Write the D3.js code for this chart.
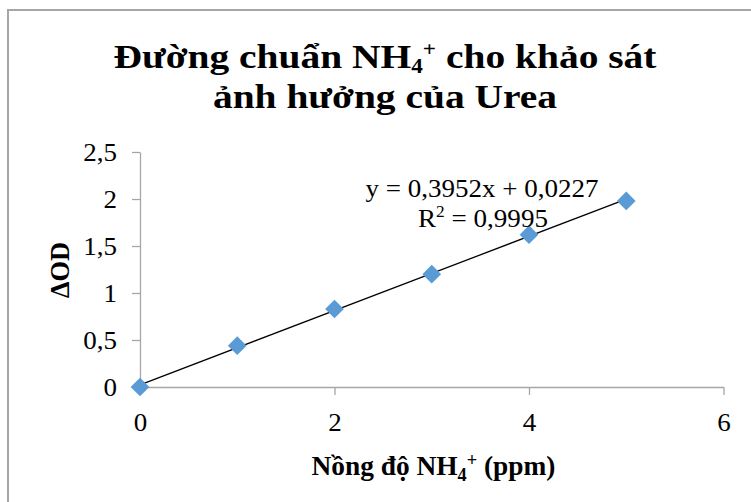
<!DOCTYPE html>
<html><head><meta charset="utf-8">
<script src="https://cdn.jsdelivr.net/npm/d3@7"></script>
<style>body{margin:0;background:#fff}svg{display:block}</style>
</head><body>
<script>
const concentrations = [0, 1, 2, 3, 4, 5];
const deltaOD = [0, 0.44, 0.83, 1.2, 1.62, 1.98];
const trendSlope = 0.3952, trendIntercept = 0.0227;
const equationText = "y = 0,3952x + 0,0227";
const r2Value = "0,9995";
const xTicks = [0, 2, 4, 6];
const yTicks = [0, 0.5, 1, 1.5, 2, 2.5];
const fmt = v => String(v).replace(".", ",");

const W = 751, H = 502;
const serif = "'Liberation Serif', 'DejaVu Serif', serif";
const svg = d3.select("body").append("svg").attr("width", W).attr("height", H);
svg.append("rect").attr("width", W).attr("height", H).attr("fill", "#fff");
svg.append("rect").attr("x", 8).attr("y", 10).attr("width", 800).attr("height", 600)
  .attr("fill", "none").attr("stroke", "#a6a6a6").attr("stroke-width", 2);

// stretch a text element horizontally to a target width, centred at cx
function fitWidth(sel, target, cx) {
  const w = sel.node().getBBox().width;
  const k = target / w;
  sel.attr("transform", `translate(${cx},0) scale(${k},1) translate(${-cx},0)`);
}

const x = d3.scaleLinear().domain([0, 6]).range([140, 723.5]);
const y = d3.scaleLinear().domain([0, 2.5]).range([387, 152]);

// axes
const xAxis = svg.append("g").attr("transform", `translate(0,${y(0)})`)
  .call(d3.axisBottom(x).tickValues(xTicks).tickSize(8).tickSizeOuter(0).tickFormat(fmt));
const yAxis = svg.append("g").attr("transform", `translate(${x(0)},0)`)
  .call(d3.axisLeft(y).tickValues(yTicks).tickSize(8).tickSizeOuter(0).tickFormat(fmt));
[xAxis, yAxis].forEach(g => {
  g.select(".domain").attr("stroke", "#a6a6a6").attr("stroke-width", 1.3);
  g.selectAll(".tick line").attr("stroke", "#a6a6a6").attr("stroke-width", 1.3);
  g.selectAll(".tick text").attr("fill", "#000").style("font-family", serif).style("font-size", "25px");
});
xAxis.selectAll(".tick line").filter(d => d === 0).remove();
yAxis.selectAll(".tick line").filter(d => d === 0).remove();
xAxis.selectAll(".tick text").attr("dy", 0).attr("y", 44);
yAxis.selectAll(".tick text").attr("x", -23);
xAxis.selectAll(".tick text").each(function() { fitWidth(d3.select(this), this.getBBox().width * 1.08, 0); });
yAxis.selectAll(".tick text").each(function() { fitWidth(d3.select(this), this.getBBox().width * 1.08, -23); });

// trendline
svg.append("line")
  .attr("x1", x(0)).attr("y1", y(trendIntercept))
  .attr("x2", x(5)).attr("y2", y(trendSlope * 5 + trendIntercept))
  .attr("stroke", "#000").attr("stroke-width", 1.3);

// points
const data = concentrations.map((c, i) => ({c, v: deltaOD[i]}));
svg.selectAll("path.pt").data(data).enter().append("path").attr("class", "pt")
  .attr("d", d3.symbol().type(d3.symbolSquare).size(175))
  .attr("transform", d => `translate(${x(d.c)},${y(d.v)}) rotate(45)`)
  .attr("fill", "#5b9bd5");

// title (one text element, two lines)
const TF = 34, SF = 20;
const title = svg.append("text").attr("text-anchor", "middle")
  .style("font-family", serif).style("font-weight", "bold").style("font-size", TF + "px").attr("fill", "#000");
const l1 = title.append("tspan").attr("x", 385).attr("y", 68);
l1.append("tspan").text("Đường chuẩn NH");
l1.append("tspan").attr("dy", 5).style("font-size", SF + "px").text("4");
l1.append("tspan").attr("dy", -17).style("font-size", SF + "px").text("+");
l1.append("tspan").attr("dy", 12).text(" cho khảo sát");
title.append("tspan").attr("x", 385).attr("y", 108).text("ảnh hưởng của Urea");
{
  const tmp = svg.append("text").style("font-family", serif).style("font-weight", "bold").style("font-size", TF + "px");
  tmp.append("tspan").text("Đường chuẩn NH");
  tmp.append("tspan").style("font-size", SF + "px").text("4+");
  tmp.append("tspan").text(" cho khảo sát");
  const k = 544 / tmp.node().getBBox().width;
  tmp.remove();
  title.attr("transform", `translate(385,0) scale(${k},1) translate(-385,0)`);
}

// x title
const xt = svg.append("text").attr("text-anchor", "middle").attr("x", 433.5).attr("y", 475)
  .style("font-family", serif).style("font-weight", "bold").style("font-size", "27px").attr("fill", "#000");
xt.append("tspan").text("Nồng độ NH");
xt.append("tspan").attr("dy", 6).style("font-size", "18px").text("4");
xt.append("tspan").attr("dy", -15).style("font-size", "18px").text("+");
xt.append("tspan").attr("dy", 9).text(" (ppm)");
fitWidth(xt, 244, 433.5);

// y title
const ytG = svg.append("g").attr("transform", "translate(69,270) rotate(-90)");
const yt = ytG.append("text").attr("text-anchor", "middle").attr("x", 0).attr("y", 0)
  .style("font-family", serif).style("font-weight", "bold").style("font-size", "27px").attr("fill", "#000")
  .text("ΔOD");
fitWidth(yt, 56, 0);

// equation
const eq = svg.append("text").attr("text-anchor", "middle").attr("x", 482).attr("y", 197)
  .style("font-family", serif).style("font-size", "25px").attr("fill", "#000").text(equationText);
fitWidth(eq, 233, 482);
const r2 = svg.append("text").attr("text-anchor", "middle").attr("x", 483).attr("y", 227)
  .style("font-family", serif).style("font-size", "25px").attr("fill", "#000");
r2.append("tspan").text("R");
r2.append("tspan").attr("dy", -10).style("font-size", "16px").text("2");
r2.append("tspan").attr("dy", 10).text(" = " + r2Value);
fitWidth(r2, 130, 483);
</script>
</body></html>
